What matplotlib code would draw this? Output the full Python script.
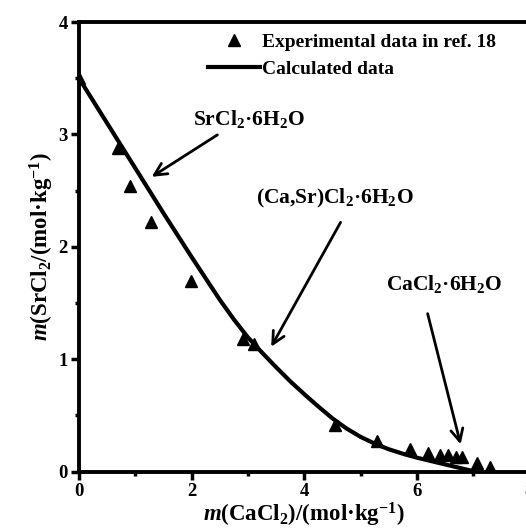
import numpy as np
import matplotlib
matplotlib.use("Agg")
import matplotlib.pyplot as plt
from matplotlib.ticker import MultipleLocator

# experimental points (ref. 18)
exp_ca = [0.0, 0.70, 0.91, 1.27, 1.99, 2.92, 3.10, 4.54, 5.30, 5.88, 6.20, 6.42, 6.56, 6.70, 6.80, 7.07, 7.30]
exp_sr = [3.50, 2.88, 2.54, 2.22, 1.70, 1.18, 1.14, 0.415, 0.27, 0.20, 0.165, 0.15, 0.145, 0.13, 0.13, 0.08, 0.04]

# calculated solubility curve
calc_ca = [0.0, 0.5, 1.0, 1.5, 2.0, 2.25, 2.5, 2.75, 3.0, 3.25, 3.5, 3.75, 4.0, 4.25,
           4.5, 4.75, 5.0, 5.25, 5.5, 5.75, 6.0, 6.25, 6.5, 6.75, 7.0]
calc_sr = [3.50, 3.10, 2.70, 2.30, 1.91, 1.72, 1.53, 1.355, 1.195, 1.06, 0.93, 0.805, 0.69, 0.58,
           0.475, 0.385, 0.31, 0.25, 0.20, 0.16, 0.125, 0.095, 0.065, 0.035, 0.005]

plt.rcParams["font.family"] = ["Liberation Serif", "DejaVu Serif"]
plt.rcParams["font.weight"] = "bold"
plt.rcParams["axes.labelweight"] = "bold"
plt.rcParams["mathtext.fontset"] = "custom"
plt.rcParams["mathtext.rm"] = "Liberation Serif:bold"
plt.rcParams["mathtext.it"] = "Liberation Serif:bold:italic"
plt.rcParams["mathtext.bf"] = "Liberation Serif:bold"

fig = plt.figure(figsize=(5.26, 5.31), dpi=100)
ax = fig.add_axes([0.1502, 0.1117, 0.8563, 0.8467])

ax.plot(exp_ca, exp_sr, linestyle="none", marker="^", markersize=9,
        color="black", label="Experimental data in ref. 18")
ax.plot(calc_ca, calc_sr, color="black", linewidth=3, label="Calculated data")

ax.set_xlim(0, 8)
ax.set_ylim(0, 4)
ax.xaxis.set_major_locator(MultipleLocator(2))
ax.xaxis.set_minor_locator(MultipleLocator(1))
ax.yaxis.set_major_locator(MultipleLocator(1))
ax.yaxis.set_minor_locator(MultipleLocator(0.5))
ax.tick_params(which="major", direction="out", length=6, width=2.5, labelsize=13.5, pad=2)
ax.tick_params(which="minor", direction="out", length=3, width=2.5)
for sp in ax.spines.values():
    sp.set_linewidth(2.8)

ax.set_xlabel(r"$m$(CaCl$_2$)/(mol·kg$^{-1}$)", fontsize=16.5, labelpad=1)
ax.set_ylabel(r"$m$(SrCl$_2$/(mol·kg$^{-1}$)", fontsize=16.5, labelpad=2)

arrow = dict(arrowstyle="->", color="black", lw=2, mutation_scale=22)
ax.annotate(r"SrCl$_2$·6H$_2$O", xy=(1.25, 2.61), xytext=(2.02, 3.14),
            fontsize=15.5, va="center", ha="left")
ax.annotate("", xy=(1.25, 2.61), xytext=(2.50, 3.01), arrowprops=arrow)
ax.annotate(r"(Ca,Sr)Cl$_2$·6H$_2$O", xy=(3.39, 1.09), xytext=(3.15, 2.43),
            fontsize=15.5, va="center", ha="left")
ax.annotate("", xy=(3.39, 1.09), xytext=(4.67, 2.24), arrowprops=arrow)
ax.annotate(r"CaCl$_2$·6H$_2$O", xy=(6.79, 0.22), xytext=(5.45, 1.67),
            fontsize=15.5, va="center", ha="left")
ax.annotate("", xy=(6.79, 0.22), xytext=(6.18, 1.43), arrowprops=arrow)

ax.legend(loc="upper left", bbox_to_anchor=(0.286, 0.975), frameon=False,
          fontsize=14, handlelength=2.7, handletextpad=0.1, labelspacing=0.5,
          borderpad=0, borderaxespad=0)

fig.savefig("out.png", dpi=100)
